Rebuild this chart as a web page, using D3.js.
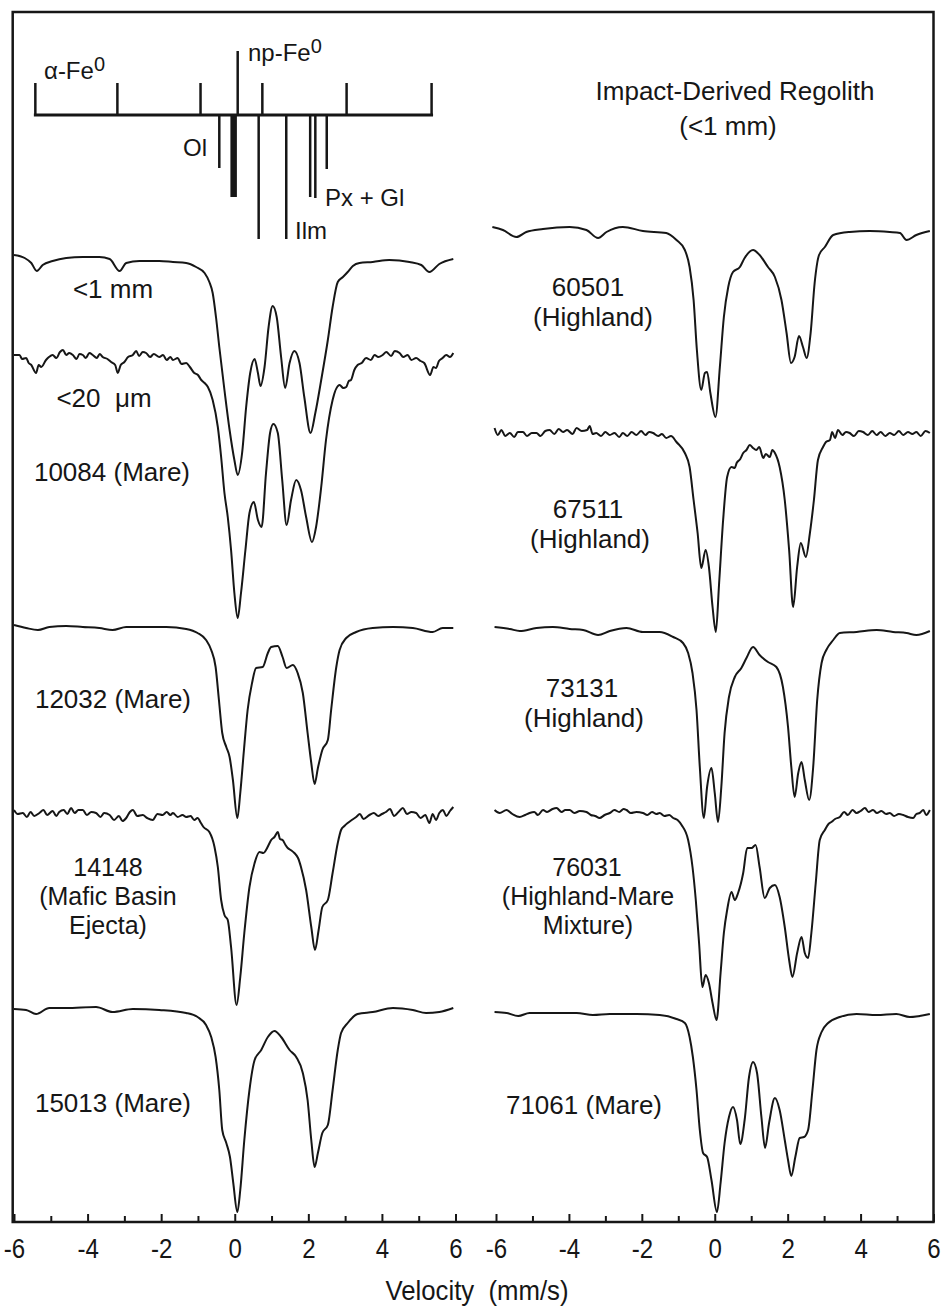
<!DOCTYPE html>
<html>
<head>
<meta charset="utf-8">
<script src="https://cdn.jsdelivr.net/npm/d3@7"></script>
<style>
  body { margin: 0; background: #fff; }
  svg text { font-family: "Liberation Sans", Arial, sans-serif; fill: #161616; }
</style>
</head>
<body>
<svg width="945" height="1307"></svg>
<script>
// velocity ticks (mm/s)
var majorTicks = [-6, -4, -2, 0, 2, 4, 6];
var minorTicks = [-5, -3, -1, 1, 3, 5];

// reference lines: alpha-Fe sextet, np-Fe singlet, silicate/oxide doublets (velocity, relative height)
var alphaFe = [[-5.42, 32], [-3.19, 32], [-0.93, 32], [0.75, 32], [3.04, 32], [5.35, 32]];
var npFe = [[0.08, 64]];
var phaseLines = [[-0.42, 53], [0.65, 124], [1.40, 124], [2.05, 82], [2.19, 83], [2.50, 54]];
var phaseLinesBold = [[-0.03, 82]];

// spectra: [velocity, transmission relative to continuum (arb.)]
var s10084_1mm = [[-6.00, 3], [-5.71, 0], [-5.53, -5], [-5.38, -13], [-5.22, -7], [-4.95, -3], [-4.58, 0], [-4.13, 1], [-3.68, 1], [-3.40, -1], [-3.13, -13], [-2.95, -5], [-2.59, -3], [-2.05, -3], [-1.68, -4], [-1.32, -5], [-1.05, -9], [-0.82, -15], [-0.69, -24], [-0.60, -35], [-0.51, -59], [-0.42, -89], [-0.28, -132], [-0.14, -172], [-0.01, -202], [0.08, -217], [0.20, -195], [0.31, -149], [0.42, -115], [0.54, -101], [0.63, -115], [0.70, -128], [0.81, -109], [0.92, -69], [1.03, -48], [1.14, -59], [1.26, -99], [1.37, -130], [1.49, -105], [1.62, -93], [1.76, -105], [1.89, -139], [2.06, -175], [2.19, -155], [2.35, -122], [2.53, -82], [2.66, -49], [2.80, -24], [2.94, -19], [3.07, -14], [3.21, -8], [3.39, -5], [3.75, -4], [4.20, -2], [4.75, -4], [5.07, -7], [5.29, -14], [5.56, -6], [5.94, -1]];

var s10084_20um = [[-6.00, 0], [-5.85, 0], [-5.78, -4], [-5.67, -3], [-5.60, -8], [-5.53, -10], [-5.40, -18], [-5.33, -10], [-5.26, -12], [-5.13, -5], [-5.05, -2], [-4.95, 0], [-4.85, -3], [-4.75, 3], [-4.67, 5], [-4.58, 0], [-4.50, 2], [-4.40, 0], [-4.30, -4], [-4.22, 1], [-4.13, 0], [-4.05, -3], [-3.95, 2], [-3.86, 0], [-3.75, -3], [-3.67, 1], [-3.59, -2], [-3.46, -4], [-3.36, -7], [-3.25, -10], [-3.18, -18], [-3.10, -10], [-3.00, -7], [-2.90, -2], [-2.77, 0], [-2.68, 4], [-2.60, -1], [-2.50, 3], [-2.41, 2], [-2.30, -2], [-2.20, 1], [-2.05, -2], [-1.95, 0], [-1.85, -5], [-1.75, -2], [-1.68, -5], [-1.55, -3], [-1.45, -9], [-1.32, -8], [-1.22, -12], [-1.10, -18], [-1.00, -20], [-0.91, -25], [-0.82, -28], [-0.73, -32], [-0.60, -45], [-0.46, -72], [-0.37, -102], [-0.28, -138], [-0.19, -162], [-0.10, -195], [-0.01, -238], [0.08, -263], [0.17, -238], [0.29, -195], [0.40, -158], [0.52, -147], [0.63, -165], [0.73, -172], [0.85, -118], [0.96, -78], [1.05, -69], [1.17, -78], [1.29, -125], [1.41, -170], [1.53, -145], [1.67, -125], [1.80, -135], [1.94, -162], [2.10, -187], [2.21, -172], [2.35, -132], [2.48, -85], [2.66, -45], [2.85, -30], [2.95, -33], [3.03, -32], [3.10, -26], [3.16, -25], [3.25, -15], [3.34, -10], [3.45, -8], [3.57, -3], [3.70, -5], [3.80, 0], [3.90, -2], [4.02, 0], [4.12, 3], [4.25, -1], [4.35, 4], [4.48, 2], [4.58, -2], [4.70, 0], [4.80, -5], [4.93, -3], [5.05, -6], [5.15, -8], [5.31, -20], [5.40, -12], [5.47, -13], [5.55, -6], [5.65, -3], [5.75, 0], [5.85, -2], [5.94, 2]];

var s12032 = [[-6.00, 3], [-5.67, 0], [-5.35, -2], [-5.04, 1], [-4.58, 2], [-4.13, 1], [-3.68, 0], [-3.32, -2], [-2.95, 1], [-2.41, 1], [-1.86, 1], [-1.32, -1], [-1.01, -5], [-0.78, -12], [-0.64, -22], [-0.52, -39], [-0.43, -72], [-0.34, -105], [-0.23, -119], [-0.14, -129], [-0.05, -152], [0.07, -190], [0.15, -165], [0.25, -122], [0.35, -82], [0.47, -55], [0.58, -40], [0.76, -39], [0.90, -25], [0.99, -19], [1.17, -18], [1.30, -29], [1.41, -40], [1.58, -37], [1.71, -45], [1.85, -65], [1.98, -105], [2.08, -135], [2.17, -156], [2.26, -140], [2.38, -122], [2.53, -112], [2.62, -82], [2.76, -39], [2.85, -22], [3.03, -10], [3.30, -4], [3.75, 0], [4.30, 1], [4.84, 0], [5.38, -4], [5.65, 0], [5.94, 0]];

var s14148 = [[-6.00, 2], [-5.90, -2], [-5.76, -1], [-5.65, -5], [-5.55, 0], [-5.45, -4], [-5.31, -1], [-5.20, 2], [-5.10, -3], [-4.95, 1], [-4.85, -4], [-4.77, 0], [-4.65, 2], [-4.55, -2], [-4.45, 4], [-4.35, -1], [-4.25, 2], [-4.13, 2], [-4.02, -3], [-3.90, 0], [-3.77, -1], [-3.65, -5], [-3.55, -1], [-3.40, -3], [-3.28, -8], [-3.15, -4], [-3.05, -9], [-2.95, -6], [-2.85, 0], [-2.77, 2], [-2.65, -4], [-2.50, -3], [-2.38, -6], [-2.23, -8], [-2.10, -2], [-1.96, -3], [-1.85, 0], [-1.75, -3], [-1.68, -1], [-1.55, -5], [-1.42, -3], [-1.32, -5], [-1.20, -4], [-1.10, -8], [-1.01, -6], [-0.92, -11], [-0.85, -15], [-0.69, -20], [-0.55, -35], [-0.46, -55], [-0.37, -88], [-0.28, -103], [-0.19, -108], [-0.10, -135], [0.05, -193], [0.15, -165], [0.26, -121], [0.40, -75], [0.54, -51], [0.67, -40], [0.78, -41], [0.85, -38], [0.92, -33], [0.99, -28], [1.08, -25], [1.17, -20], [1.23, -27], [1.30, -28], [1.38, -33], [1.44, -36], [1.52, -38], [1.62, -41], [1.72, -46], [1.80, -55], [1.94, -78], [2.08, -115], [2.18, -138], [2.28, -118], [2.38, -95], [2.53, -88], [2.66, -61], [2.80, -31], [2.89, -18], [2.98, -14], [3.07, -11], [3.18, -8], [3.30, -5], [3.40, -2], [3.50, -7], [3.66, -3], [3.78, -1], [3.90, -4], [4.00, -2], [4.11, 0], [4.22, 3], [4.33, -4], [4.45, 0], [4.57, 4], [4.68, -2], [4.80, 0], [4.93, -1], [5.05, -6], [5.18, -3], [5.29, -11], [5.38, -2], [5.47, -8], [5.56, -1], [5.66, 2], [5.75, -4], [5.85, 1], [5.94, 5]];

var s15013 = [[-6.00, 1], [-5.67, 0], [-5.40, -4], [-5.04, 2], [-4.58, 2], [-3.77, 3], [-3.32, -2], [-2.77, 1], [-2.05, 0], [-1.32, -3], [-1.01, -7], [-0.78, -15], [-0.64, -27], [-0.52, -47], [-0.42, -80], [-0.34, -120], [-0.23, -133], [-0.13, -147], [-0.04, -173], [0.07, -202], [0.15, -180], [0.26, -130], [0.40, -80], [0.54, -50], [0.72, -40], [0.90, -27], [1.08, -21], [1.26, -27], [1.49, -40], [1.67, -47], [1.85, -63], [1.98, -90], [2.08, -130], [2.17, -157], [2.26, -143], [2.38, -123], [2.53, -115], [2.66, -80], [2.80, -40], [2.89, -23], [3.07, -13], [3.34, -4], [3.75, -2], [4.30, 2], [4.84, 0], [5.20, -3], [5.56, -2], [5.94, 2]];

var s60501 = [[-6.10, 3], [-5.81, 0], [-5.44, -7], [-5.17, -2], [-4.71, 1], [-3.98, 3], [-3.52, 0], [-3.20, -8], [-2.97, -2], [-2.52, 3], [-1.97, -1], [-1.33, -3], [-1.05, -10], [-0.82, -20], [-0.69, -37], [-0.58, -70], [-0.49, -120], [-0.37, -160], [-0.27, -143], [-0.21, -142], [-0.12, -163], [0.02, -187], [0.14, -137], [0.25, -87], [0.37, -57], [0.50, -42], [0.69, -37], [0.82, -28], [1.05, -20], [1.23, -25], [1.46, -37], [1.65, -47], [1.83, -70], [1.97, -103], [2.09, -133], [2.19, -127], [2.31, -106], [2.42, -117], [2.52, -128], [2.63, -103], [2.74, -53], [2.86, -25], [3.02, -17], [3.25, -5], [3.70, -2], [4.25, -1], [4.80, -2], [5.08, -3], [5.26, -10], [5.53, -5], [5.90, -1]];

var s67511 = [[-6.04, 4], [-5.95, -3], [-5.85, 2], [-5.75, -4], [-5.62, -1], [-5.50, -5], [-5.40, 0], [-5.26, 0], [-5.15, -4], [-5.02, -1], [-4.89, -1], [-4.78, -4], [-4.65, 1], [-4.53, 2], [-4.40, -2], [-4.28, 3], [-4.16, 0], [-4.05, 2], [-3.90, -2], [-3.79, 4], [-3.65, 1], [-3.50, 2], [-3.43, 6], [-3.35, -2], [-3.25, -1], [-3.12, -4], [-3.00, 0], [-2.88, -3], [-2.75, -1], [-2.62, -5], [-2.52, -1], [-2.40, -4], [-2.28, 0], [-2.15, -3], [-2.02, 1], [-1.90, -3], [-1.80, 0], [-1.69, -1], [-1.55, -4], [-1.45, -2], [-1.33, -6], [-1.20, -4], [-1.05, -10], [-0.82, -21], [-0.69, -35], [-0.58, -68], [-0.47, -101], [-0.37, -136], [-0.25, -118], [-0.16, -135], [-0.06, -175], [0.03, -200], [0.12, -151], [0.23, -88], [0.34, -45], [0.46, -35], [0.55, -36], [0.60, -31], [0.70, -27], [0.78, -21], [0.87, -18], [0.96, -13], [1.05, -16], [1.14, -18], [1.22, -15], [1.33, -26], [1.40, -22], [1.51, -25], [1.58, -18], [1.65, -21], [1.78, -35], [1.92, -68], [2.04, -118], [2.15, -175], [2.26, -135], [2.36, -111], [2.50, -125], [2.61, -101], [2.72, -68], [2.83, -28], [2.97, -15], [3.05, -10], [3.16, -8], [3.22, 0], [3.30, -6], [3.38, 2], [3.50, -3], [3.60, 0], [3.70, -1], [3.82, -4], [3.95, 1], [4.07, 0], [4.20, -3], [4.32, 1], [4.44, -3], [4.55, 0], [4.68, -4], [4.80, -1], [4.92, -3], [5.05, 1], [5.17, -3], [5.30, 0], [5.42, -2], [5.53, 0], [5.65, -4], [5.78, 1], [5.90, -1]];

var s73131 = [[-6.04, 3], [-5.62, 1], [-5.35, -1], [-4.89, 2], [-4.44, 3], [-3.98, 1], [-3.61, 0], [-3.20, -5], [-2.88, -1], [-2.42, 2], [-1.97, -2], [-1.51, -2], [-1.14, -7], [-0.87, -13], [-0.73, -23], [-0.61, -43], [-0.50, -80], [-0.41, -137], [-0.30, -188], [-0.21, -157], [-0.09, -138], [0.00, -163], [0.09, -192], [0.18, -157], [0.27, -103], [0.39, -67], [0.55, -47], [0.73, -38], [0.87, -28], [1.05, -17], [1.23, -25], [1.46, -32], [1.69, -37], [1.87, -57], [2.01, -97], [2.10, -137], [2.19, -167], [2.29, -143], [2.38, -132], [2.47, -150], [2.59, -170], [2.70, -137], [2.81, -70], [2.93, -33], [3.06, -20], [3.25, -10], [3.43, -3], [3.89, -2], [4.44, 0], [4.89, -2], [5.26, -3], [5.53, -5], [5.90, -1]];

var s76031 = [[-6.04, 2], [-5.90, -1], [-5.71, 2], [-5.55, -2], [-5.35, -5], [-5.20, -3], [-5.08, -1], [-4.95, 0], [-4.85, -3], [-4.71, 2], [-4.60, 0], [-4.45, 3], [-4.34, 4], [-4.20, 0], [-4.10, 2], [-3.98, 2], [-3.85, -1], [-3.70, 1], [-3.52, 0], [-3.40, -3], [-3.28, -4], [-3.16, -6], [-3.02, -3], [-2.88, -1], [-2.75, 2], [-2.62, 0], [-2.50, 3], [-2.42, 2], [-2.30, -1], [-2.15, 0], [-1.97, -1], [-1.85, -3], [-1.72, 0], [-1.60, -2], [-1.51, -1], [-1.38, -4], [-1.25, -3], [-1.14, -6], [-1.02, -8], [-0.91, -13], [-0.73, -28], [-0.61, -55], [-0.52, -88], [-0.43, -131], [-0.34, -175], [-0.25, -163], [-0.16, -171], [-0.06, -191], [0.05, -208], [0.16, -161], [0.25, -121], [0.34, -98], [0.46, -80], [0.55, -88], [0.64, -81], [0.78, -61], [0.89, -36], [1.01, -36], [1.12, -33], [1.23, -55], [1.37, -86], [1.51, -76], [1.65, -73], [1.78, -85], [1.92, -115], [2.04, -148], [2.13, -165], [2.26, -141], [2.38, -125], [2.47, -141], [2.56, -146], [2.65, -121], [2.77, -71], [2.88, -28], [3.02, -18], [3.12, -12], [3.20, -10], [3.30, -7], [3.43, -5], [3.55, 0], [3.65, -3], [3.78, 2], [3.89, -1], [4.00, 1], [4.12, 4], [4.22, 0], [4.34, 2], [4.45, -1], [4.57, 1], [4.70, -2], [4.80, -1], [4.92, -4], [5.05, -2], [5.17, -3], [5.30, -5], [5.44, -6], [5.53, -2], [5.62, -1], [5.72, 2], [5.80, -3], [5.90, 2]];

var s71061 = [[-6.04, 2], [-5.71, 1], [-5.39, -2], [-5.08, 1], [-4.44, 1], [-3.79, 1], [-3.34, -1], [-2.88, 0], [-2.15, 0], [-1.51, -1], [-1.05, -5], [-0.82, -9], [-0.69, -23], [-0.60, -43], [-0.50, -76], [-0.41, -116], [-0.32, -139], [-0.21, -143], [-0.09, -166], [0.06, -198], [0.16, -169], [0.27, -129], [0.39, -103], [0.50, -93], [0.61, -106], [0.70, -130], [0.82, -106], [0.94, -63], [1.05, -48], [1.16, -59], [1.28, -103], [1.38, -134], [1.49, -109], [1.65, -84], [1.78, -96], [1.92, -126], [2.01, -146], [2.10, -162], [2.21, -143], [2.33, -124], [2.45, -123], [2.56, -116], [2.68, -76], [2.79, -36], [2.93, -18], [3.11, -9], [3.43, -3], [3.89, 0], [4.44, -1], [4.98, 0], [5.35, -3], [5.90, 0]];

// vertical stacking offsets (arb. units above the velocity axis)
var leftSpectra = [s10084_1mm, s10084_20um, s12032, s14148, s15013];
var leftOffsets = [964, 867, 594, 410, 212];
var rightSpectra = [s60501, s67511, s73131, s76031, s71061];
var rightOffsets = [992, 790, 592, 410, 208];

var svg = d3.select("svg");
var plotTop = 12, plotBottom = 1222, frameLeft = 12.7, frameRight = 933.5;

var xL = d3.scaleLinear().domain([-6, 6]).range([14, 455.5]);
var xR = d3.scaleLinear().domain([-6, 6]).range([496, 933.5]);
var y = d3.scaleLinear().domain([0, 1210]).range([plotBottom, plotTop]);
var ink = "#161616";

// frame
svg.append("rect")
	.attr("x", frameLeft).attr("y", plotTop)
	.attr("width", frameRight - frameLeft).attr("height", plotBottom - plotTop)
	.attr("fill", "none").attr("stroke", ink).attr("stroke-width", 2.5);

// axes: labelled even ticks + short odd ticks, both pointing inward
[xL, xR].forEach(function (x) {
	var major = svg.append("g")
		.attr("transform", "translate(0," + plotBottom + ")")
		.call(d3.axisBottom(x).tickValues(majorTicks).tickSize(-8).tickPadding(16)
			.tickFormat(function (d) { return String(d); }));
	var minor = svg.append("g")
		.attr("transform", "translate(0," + plotBottom + ")")
		.call(d3.axisBottom(x).tickValues(minorTicks).tickSize(-6).tickFormat(""));
	[major, minor].forEach(function (g) {
		g.select(".domain").remove();
		g.selectAll(".tick line").attr("stroke", ink).attr("stroke-width", 2);
	});
	// condensed look of the original tick labels
	major.selectAll(".tick text")
		.attr("font-size", 28).attr("fill", ink)
		.attr("font-family", "Liberation Sans, Arial, sans-serif")
		.attr("transform", "scale(0.86,1)");
});

svg.append("g")
	.attr("transform", "translate(477,1300) scale(0.92,1)")
	.append("text")
	.attr("text-anchor", "middle").attr("font-size", 28)
	.style("white-space", "pre")
	.text("Velocity  (mm/s)");

// spectra
function drawSpectra(x, list, offsets) {
	list.forEach(function (data, i) {
		var line = d3.line()
			.curve(d3.curveMonotoneX)
			.x(function (d) { return x(d[0]); })
			.y(function (d) { return y(offsets[i] + d[1]); });
		svg.append("path")
			.datum(data)
			.attr("d", line)
			.attr("fill", "none")
			.attr("stroke", ink)
			.attr("stroke-width", 2)
			.attr("stroke-linejoin", "round");
	});
}
drawSpectra(xL, leftSpectra, leftOffsets);
drawSpectra(xR, rightSpectra, rightOffsets);

// stick diagram of reference line positions
var stickBase = 1107;
var sticks = svg.append("g").attr("stroke", ink);
sticks.append("line")
	.attr("x1", xL(-5.46)).attr("x2", xL(5.39))
	.attr("y1", y(stickBase)).attr("y2", y(stickBase))
	.attr("stroke-width", 3);
function stickSet(cls, data, dir, width) {
	sticks.selectAll("." + cls).data(data).enter().append("line")
		.attr("class", cls)
		.attr("x1", function (d) { return xL(d[0]); })
		.attr("x2", function (d) { return xL(d[0]); })
		.attr("y1", y(stickBase))
		.attr("y2", function (d) { return y(stickBase + dir * d[1]); })
		.attr("stroke-width", width);
}
stickSet("afe", alphaFe, 1, 2.5);
stickSet("np", npFe, 1, 2.5);
stickSet("ph", phaseLines, -1, 2.5);
stickSet("phb", phaseLinesBold, -1, 6.5);

function supLabel(x0, y0, main, sup) {
	var t = svg.append("text").attr("x", x0).attr("y", y0).attr("font-size", 24);
	t.append("tspan").text(main);
	t.append("tspan").attr("dy", -8).attr("font-size", 20).text(sup);
}
supLabel(44, 79, "\u03b1-Fe", "0");
supLabel(248, 61, "np-Fe", "0");

function label(x0, y0, s, size, anchor) {
	svg.append("text")
		.attr("x", x0).attr("y", y0)
		.attr("font-size", size)
		.attr("text-anchor", anchor || "middle")
		.style("white-space", "pre")
		.text(s);
}
label(183, 156, "Ol", 24, "start");
label(325, 206, "Px + Gl", 24, "start");
label(295, 239, "Ilm", 24, "start");

// sample labels
label(113, 298, "<1 mm", 26);
label(104, 407, "<20  \u03bcm", 26);
label(112, 481, "10084 (Mare)", 26);
label(113, 708, "12032 (Mare)", 26);
label(108, 876, "14148", 25);
label(108, 905, "(Mafic Basin", 25);
label(108, 934, "Ejecta)", 25);
label(113, 1112, "15013 (Mare)", 26);

label(735, 100, "Impact-Derived Regolith", 26);
label(728, 135, "(<1 mm)", 26);
label(588, 296, "60501", 26);
label(593, 326, "(Highland)", 26);
label(588, 518, "67511", 26);
label(590, 548, "(Highland)", 26);
label(582, 697, "73131", 26);
label(584, 727, "(Highland)", 26);
label(587, 876, "76031", 25);
label(588, 905, "(Highland-Mare", 25);
label(588, 934, "Mixture)", 25);
label(584, 1114, "71061 (Mare)", 26);
</script>
</body>
</html>
